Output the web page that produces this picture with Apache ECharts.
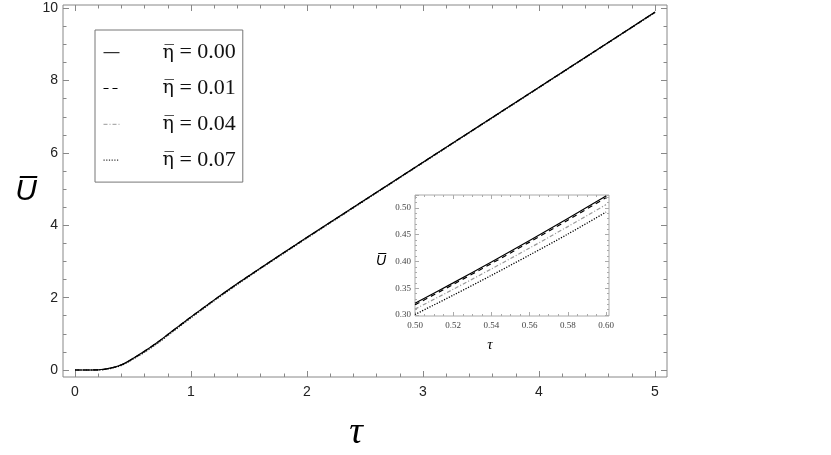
<!DOCTYPE html>
<html>
<head>
<meta charset="utf-8">
<script src="https://cdn.jsdelivr.net/npm/echarts@6/dist/echarts.min.js"></script>
<style>
  html, body { margin: 0; padding: 0; background: #fff; }
  #chart { width: 831px; height: 455px; }
</style>
</head>
<body>
<div id="chart"></div>
<script>
// main plot data (tau vs U-bar)
const tau = [0, 0.1, 0.2, 0.25, 0.3, 0.35, 0.4, 0.45, 0.5, 0.55, 0.6, 0.7, 0.8, 0.9, 1.0, 1.2, 1.4, 1.6, 1.8, 2.0, 2.5, 3.0, 3.5, 4.0, 4.5, 5.0]
const u000 = [0, 0, 0.005, 0.02, 0.05, 0.09, 0.145, 0.225, 0.322, 0.42, 0.522, 0.742, 0.982, 1.227, 1.469, 1.939, 2.389, 2.823, 3.247, 3.667, 4.707, 5.745, 6.782, 7.818, 8.856, 9.895]
const u001 = [0, 0, 0.005, 0.019, 0.049, 0.088, 0.143, 0.222, 0.319, 0.417, 0.519, 0.739, 0.979, 1.224, 1.466, 1.936, 2.386, 2.820, 3.244, 3.664, 4.704, 5.742, 6.779, 7.815, 8.853, 9.892]
const u004 = [0, 0, 0.004, 0.017, 0.045, 0.083, 0.136, 0.214, 0.311, 0.407, 0.506, 0.726, 0.967, 1.213, 1.456, 1.927, 2.378, 2.813, 3.237, 3.658, 4.698, 5.737, 6.774, 7.810, 8.849, 9.888]
const u007 = [0, 0, 0.003, 0.014, 0.040, 0.076, 0.128, 0.205, 0.301, 0.395, 0.492, 0.712, 0.953, 1.200, 1.444, 1.916, 2.368, 2.804, 3.229, 3.650, 4.691, 5.730, 6.768, 7.805, 8.844, 9.883]

// inset (zoom on 0.50 .. 0.60)
const insetTau = [0.50, 0.52, 0.54, 0.56, 0.58, 0.60]
const in000 = [0.322, 0.360, 0.399, 0.439, 0.480, 0.522]
const in001 = [0.319, 0.357, 0.396, 0.436, 0.477, 0.519]
const in004 = [0.311, 0.348, 0.386, 0.425, 0.465, 0.506]
const in007 = [0.301, 0.337, 0.374, 0.412, 0.451, 0.492]

const etaLabels = ['0.00', '0.01', '0.04', '0.07']

const lineStyles = [
  { color: '#000', width: 1.2, type: 'solid' },
  { color: '#000', width: 1.2, type: [5, 4] },
  { color: '#999', width: 1.2, type: [4, 2, 1, 2] },
  { color: '#000', width: 1.3, type: [1.2, 1.5] }
]

const toPairs = (xs, ys) => xs.map((x, i) => [x, ys[i]])

const frameGray = '#888'
const sansFont = 'Liberation Sans, Arial, sans-serif'
const serifFont = 'Liberation Serif, Times New Roman, serif'

const chart = echarts.init(document.getElementById('chart'))

// one side of a framed plot: ticks point inward, no axis line (frame drawn separately)
const sideAxis = (grid, pos, opts) => Object.assign({
  type: 'value',
  gridIndex: grid,
  position: pos,
  axisLine: { show: false, onZero: false },
  splitLine: { show: false },
  axisTick: { show: true, inside: true, length: 6, lineStyle: { color: frameGray } },
  minorTick: { show: true, splitNumber: 5, length: 3.5, lineStyle: { color: frameGray } },
  axisLabel: { show: false }
}, opts)

const mainX = { min: 0, max: 5, interval: 1 }
const mainY = { min: 0, max: 10, interval: 2 }
const insetX = { min: 0.5, max: 0.6, interval: 0.02 }
const insetY = { min: 0.3, max: 0.524, interval: 0.05 }

const mainYMinor = { show: true, splitNumber: 4, length: 3.5, lineStyle: { color: frameGray } }
const insetTick = { show: true, inside: true, length: 4, lineStyle: { color: '#aaa' } }
const insetMinor = (n) => ({ show: true, splitNumber: n, length: 2, lineStyle: { color: '#aaa' } })
const onStep = (step) => (v) => Math.abs(v / step - Math.round(v / step)) < 1e-6 ? v.toFixed(2) : ''

const option = {
  animation: false,
  backgroundColor: '#fff',
  grid: [
    { left: 75, top: 8.3, width: 580, height: 361.7 },
    { left: 415, top: 195, width: 191, height: 120 }
  ],
  xAxis: [
    sideAxis(0, 'bottom', Object.assign({}, mainX, {
      offset: 7,
      axisLabel: { show: true, margin: 8, fontSize: 14, color: '#222', fontFamily: sansFont }
    })),
    sideAxis(0, 'top', Object.assign({}, mainX, { offset: 3.3 })),
    sideAxis(1, 'bottom', Object.assign({}, insetX, {
      offset: 1,
      axisTick: insetTick,
      minorTick: insetMinor(4),
      axisLabel: { show: true, margin: 5, fontSize: 9, color: '#444', fontFamily: serifFont, formatter: onStep(0.02) }
    })),
    sideAxis(1, 'top', Object.assign({}, insetX, { axisTick: insetTick, minorTick: insetMinor(4) }))
  ],
  yAxis: [
    sideAxis(0, 'left', Object.assign({}, mainY, {
      offset: 12,
      minorTick: mainYMinor,
      axisLabel: { show: true, margin: 5, fontSize: 14, color: '#222', fontFamily: sansFont }
    })),
    sideAxis(0, 'right', Object.assign({}, mainY, { offset: 12, minorTick: mainYMinor })),
    sideAxis(1, 'left', Object.assign({}, insetY, {
      axisTick: insetTick,
      minorTick: insetMinor(5),
      axisLabel: { show: true, margin: 4, fontSize: 9, color: '#444', fontFamily: serifFont, formatter: onStep(0.05) }
    })),
    sideAxis(1, 'right', Object.assign({}, insetY, { offset: 3, axisTick: insetTick, minorTick: insetMinor(5) }))
  ],
  legend: {
    orient: 'vertical',
    left: 95,
    top: 30,
    data: etaLabels,
    itemWidth: 16,
    itemHeight: 14,
    itemGap: 13.8,
    padding: [11.7, 7, 11, 8],
    borderColor: '#777',
    borderWidth: 1,
    selectedMode: false,
    itemStyle: { opacity: 0 },
    lineStyle: { width: 1 },
    formatter: (name) => '{e|η\u0305} = ' + name,
    textStyle: {
      fontFamily: serifFont, fontSize: 22, color: '#111', lineHeight: 20, padding: [0, 0, 0, 38],
      rich: { e: { fontFamily: 'DejaVu Serif', fontSize: 19, color: '#111', lineHeight: 20 } }
    }
  },
  graphic: [
    { type: 'rect', shape: { x: 63, y: 5, width: 604, height: 372 }, style: { fill: null, stroke: frameGray, lineWidth: 1 }, silent: true },
    { type: 'rect', shape: { x: 415, y: 195, width: 194, height: 121 }, style: { fill: '#fff', stroke: '#aaa', lineWidth: 1 }, silent: true },
    { type: 'text', x: 26, y: 192, style: { text: 'U\u0305', font: 'italic 30px ' + sansFont, fill: '#000', align: 'center', verticalAlign: 'middle' } },
    { type: 'text', x: 356, y: 433, style: { text: 'τ', font: 'italic 38px ' + serifFont, fill: '#000', align: 'center', verticalAlign: 'middle' } },
    { type: 'text', x: 381, y: 261, style: { text: 'U\u0305', font: 'italic 14px ' + sansFont, fill: '#000', align: 'center', verticalAlign: 'middle' } },
    { type: 'text', x: 490, y: 345, style: { text: 'τ', font: 'italic 15px ' + serifFont, fill: '#000', align: 'center', verticalAlign: 'middle' } }
  ],
  series: []
}

const mainSets = [u000, u001, u004, u007]
const insetSets = [in000, in001, in004, in007]

mainSets.forEach((ys, i) => {
  option.series.push({
    name: etaLabels[i],
    type: 'line',
    xAxisIndex: 0,
    yAxisIndex: 0,
    data: toPairs(tau, ys),
    smooth: 0.3,
    symbol: 'none',
    clip: false,
    lineStyle: lineStyles[i],
    itemStyle: { color: lineStyles[i].color },
    z: 3 + (3 - i)
  })
})

insetSets.forEach((ys, i) => {
  option.series.push({
    name: etaLabels[i],
    type: 'line',
    xAxisIndex: 2,
    yAxisIndex: 2,
    data: toPairs(insetTau, ys),
    smooth: 0.3,
    symbol: 'none',
    lineStyle: lineStyles[i],
    itemStyle: { color: lineStyles[i].color },
    z: 3
  })
})

chart.setOption(option)
</script>
</body>
</html>
